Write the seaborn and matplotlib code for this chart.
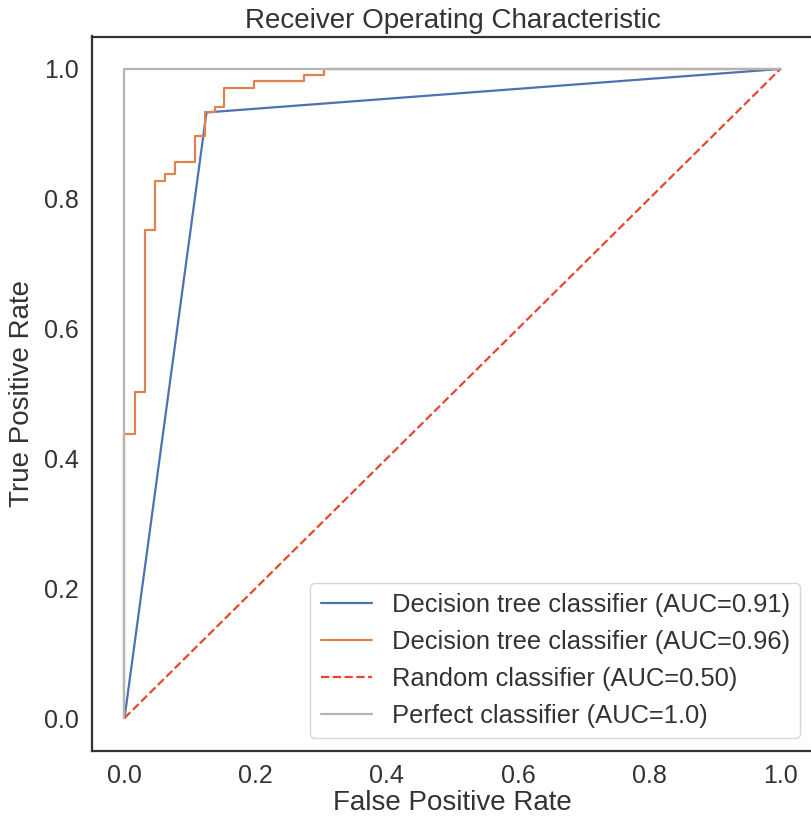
import matplotlib
matplotlib.use("Agg")
import matplotlib.pyplot as plt
import seaborn as sns
import pandas as pd

# ROC curve data
fpr_tree1 = [0.0, 0.125, 1.0]
tpr_tree1 = [0.0, 0.933, 1.0]

fpr_tree2 = [0.0, 0.0, 0.016, 0.016, 0.031, 0.031, 0.046, 0.046, 0.062, 0.062,
             0.077, 0.077, 0.107, 0.107, 0.122, 0.122, 0.138, 0.138, 0.152, 0.152,
             0.198, 0.198, 0.274, 0.274, 0.304, 0.304, 1.0]
tpr_tree2 = [0.0, 0.437, 0.437, 0.503, 0.503, 0.752, 0.752, 0.827, 0.827, 0.838,
             0.838, 0.856, 0.856, 0.896, 0.896, 0.933, 0.933, 0.942, 0.942, 0.971,
             0.971, 0.982, 0.982, 0.991, 0.991, 1.0, 1.0]

fpr_random = [0.0, 1.0]
tpr_random = [0.0, 1.0]

fpr_perfect = [0.0, 0.0, 1.0]
tpr_perfect = [0.0, 1.0, 1.0]

labels = ["Decision tree classifier (AUC=0.91)",
          "Decision tree classifier (AUC=0.96)",
          "Random classifier (AUC=0.50)",
          "Perfect classifier (AUC=1.0)"]

sns.set_theme(style="white")
plt.rcParams["font.family"] = ["Liberation Sans", "DejaVu Sans"]

fig = plt.figure(figsize=(8.12, 8.18), dpi=100)
ax = fig.add_axes([91.7 / 812, (818 - 750.5) / 818, 721.5 / 812, 714 / 818])

series = [
    (fpr_tree1, tpr_tree1, "#4c72b0", "-"),
    (fpr_tree2, tpr_tree2, "#dd8452", "-"),
    (fpr_random, tpr_random, "#e8472e", "--"),
    (fpr_perfect, tpr_perfect, "#b4b4b4", "-"),
]
for (xs, ys, c, ls), lab in zip(series, labels):
    df = pd.DataFrame({"x": xs, "y": ys})
    sns.lineplot(data=df, x="x", y="y", sort=False, estimator=None, ax=ax,
                 color=c, linestyle=ls, linewidth=1.6, label=lab)

ax.set_xlim(-0.05, 1.05)
ax.set_ylim(-0.05, 1.05)
ax.set_xticks([0.0, 0.2, 0.4, 0.6, 0.8, 1.0])
ax.set_yticks([0.0, 0.2, 0.4, 0.6, 0.8, 1.0])
ax.tick_params(labelsize=18, colors="#333333")
ax.set_xlabel("False Positive Rate", fontsize=20, color="#333333", labelpad=2)
ax.set_ylabel("True Positive Rate", fontsize=20, color="#333333", labelpad=6)
ax.set_title("Receiver Operating Characteristic", fontsize=20, color="#333333", pad=6)
for s in ax.spines.values():
    s.set_color("#333333")
    s.set_linewidth(1.6)

leg = ax.legend(loc="lower right", fontsize=18.4, frameon=True)
for t in leg.get_texts():
    t.set_color("#333333")

fig.savefig("out.png", dpi=100)
